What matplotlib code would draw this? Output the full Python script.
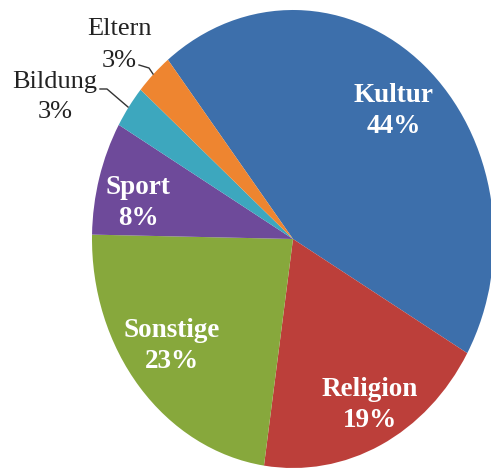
import matplotlib.pyplot as plt

# pie shares (percent), clockwise from the top-left
labels = ['Kultur', 'Religion', 'Sonstige', 'Sport', 'Bildung', 'Eltern']
shares = [44, 19, 23, 8, 3, 3]
colors = ['#3d6fab', '#bc3f3a', '#87a83c', '#6e4a9a', '#3da7be', '#ee8530']

W, H = 491, 470
cx, cy = 293, 239      # pie centre in pixels (from top-left)
rx, ry = 201, 229      # picture is stretched, so the pie is an ellipse

fig = plt.figure(figsize=(W / 100, H / 100), dpi=100)
ax = fig.add_axes([0, 0, 1, 1])
ax.pie(shares, colors=colors, startangle=128.5, counterclock=False,
       radius=1, wedgeprops=dict(linewidth=0))
ax.set_aspect('auto')
ax.set_xlim(-cx / rx, (W - cx) / rx)
ax.set_ylim(-(H - cy) / ry, cy / ry)
ax.axis('off')


def px(x, y):
    # pixel position -> data coordinates
    return (x - cx) / rx, (cy - y) / ry


font = 'Liberation Serif'
inside = {
    'Kultur': (394, 111),
    'Religion': (370, 405),
    'Sonstige': (172, 346),
    'Sport': (138, 203),
}
for name, val in zip(labels, shares):
    if name in inside:
        x, y = px(*inside[name])
        ax.text(x, y, f'{name}\n{val}%', color='white', fontsize=19.5,
                fontweight='bold', family=font, ha='center', va='center',
                linespacing=1.3)

# outside labels with leader lines
ax.text(*px(119, 45), 'Eltern\n3%', fontsize=19, family=font, ha='center',
        va='center', color='#222222', linespacing=1.6)
ax.text(*px(55, 97), 'Bildung\n3%', fontsize=19, family=font, ha='center',
        va='center', color='#222222', linespacing=1.5)
ax.plot(*zip(px(139, 65), px(149, 68), px(153, 74)), color='#333333', lw=1)
ax.plot(*zip(px(100, 89), px(107, 89), px(128, 107)), color='#333333', lw=1)

fig.savefig('out.png', dpi=100)
